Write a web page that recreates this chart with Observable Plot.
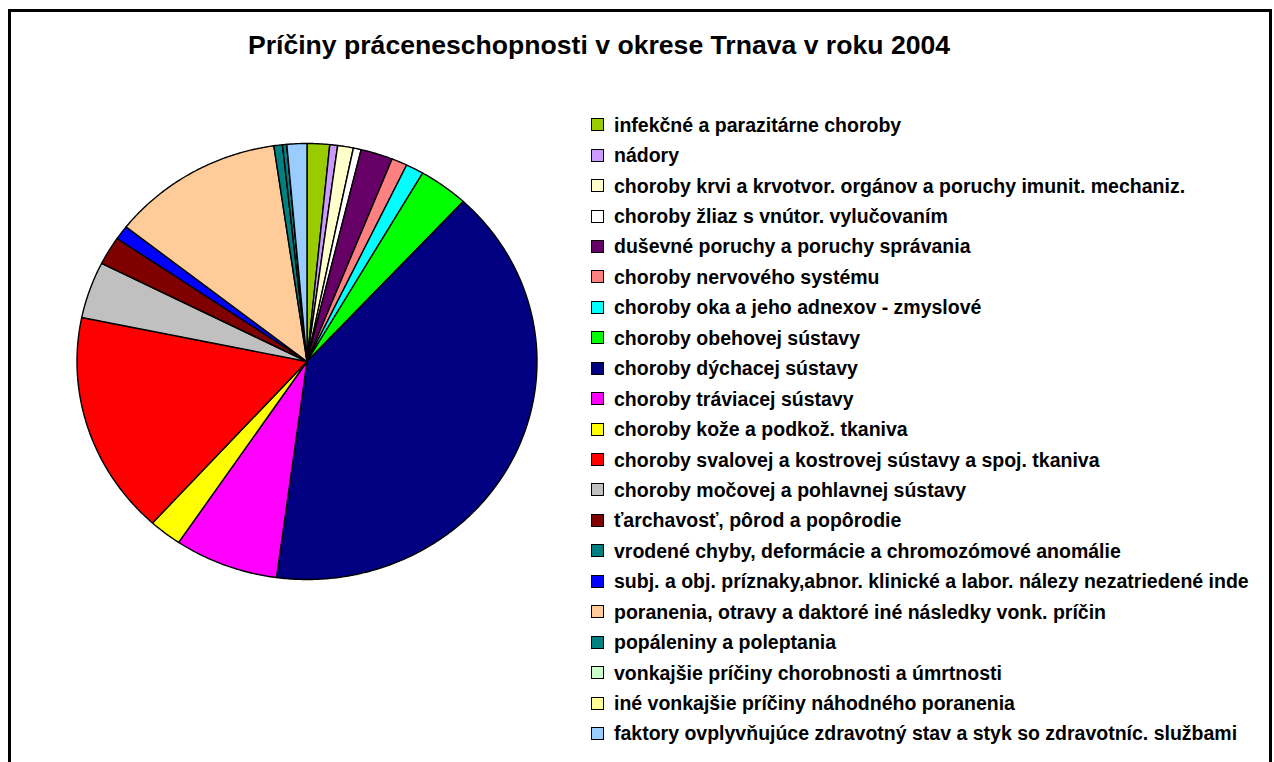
<!DOCTYPE html>
<html><head><meta charset="utf-8">
<script src="https://cdn.jsdelivr.net/npm/d3@7"></script>
<script src="https://cdn.jsdelivr.net/npm/@observablehq/plot@0.6"></script>
<style>
body{margin:0;background:#fff;font-family:"Liberation Sans",Arial,sans-serif;}
#wrap{position:relative;width:1274px;height:762px;overflow:hidden;background:#fff;}
#frame{position:absolute;left:8px;top:9px;width:1264px;height:800px;border:3px solid #000;box-sizing:border-box;pointer-events:none;}
#title{position:absolute;left:0;width:1198px;top:32px;line-height:26px;text-align:center;font-weight:bold;font-size:26.6px;color:#000;white-space:nowrap;}
#legend{position:absolute;left:591px;top:109.5px;}
.row{height:30.45px;display:flex;align-items:center;}
.sw{width:11px;height:11px;border:1px solid #000;margin-right:10px;flex:none;}
.lab{font-size:19.5px;font-weight:bold;color:#000;white-space:nowrap;line-height:20px;}
#chart{position:absolute;left:0;top:0;}
</style>
</head><body>
<div id="wrap">
  <div id="chart"></div>
  <div id="frame"></div>
  <div id="title"></div>
  <div id="legend"></div>
</div>
<script>
const titleText = "Príčiny práceneschopnosti v okrese Trnava v roku 2004";
const categories = [
  "infekčné a parazitárne choroby",
  "nádory",
  "choroby krvi a krvotvor. orgánov a poruchy imunit. mechaniz.",
  "choroby žliaz s vnútor. vylučovaním",
  "duševné poruchy a poruchy správania",
  "choroby nervového systému",
  "choroby oka a jeho adnexov - zmyslové",
  "choroby obehovej sústavy",
  "choroby dýchacej sústavy",
  "choroby tráviacej sústavy",
  "choroby kože a podkož. tkaniva",
  "choroby svalovej a kostrovej sústavy a spoj. tkaniva",
  "choroby močovej a pohlavnej sústavy",
  "ťarchavosť, pôrod a popôrodie",
  "vrodené chyby, deformácie a chromozómové anomálie",
  "subj. a obj. príznaky,abnor. klinické a labor. nálezy nezatriedené inde",
  "poranenia, otravy a daktoré iné následky vonk. príčin",
  "popáleniny a poleptania",
  "vonkajšie príčiny chorobnosti a úmrtnosti",
  "iné vonkajšie príčiny náhodného poranenia",
  "faktory ovplyvňujúce zdravotný stav a styk so zdravotníc. službami"
];
// percentages, in pie order (clockwise from 12 o'clock)
const pieOrder = [0,1,2,3,4,5,6,7,8,9,10,11,12,13,15,16,14,17,18,19,20];
const values = [1.58,0.55,1.1,0.55,2.25,1.1,1.25,3.5,40.2,7.3,2.3,16.5,4.2,2.1,0.6,1.05,12.1,0.3,0,0,1.4];
const colors = ["#99CC00","#CC99FF","#FFFFCC","#FFFFFF","#660066","#FF8080","#00FFFF","#00FF00","#000080","#FF00FF","#FFFF00","#FF0000","#C0C0C0","#800000","#008080","#0000FF","#FFCC99","#008080","#CCFFCC","#FFFF99","#99CCFF"];

document.getElementById("title").textContent = titleText;

// build slice polygons from the values
const total = d3.sum(values);
const pts = [];
let acc = 0;
for (const i of pieOrder) {
  const a0 = acc / total * 2 * Math.PI;
  acc += values[i];
  const a1 = acc / total * 2 * Math.PI;
  const cat = categories[i];
  pts.push({cat, x: 0, y: 0});
  const n = Math.max(2, Math.ceil((a1 - a0) / (Math.PI / 360)));
  for (let k = 0; k <= n; k++) {
    const a = a0 + (a1 - a0) * k / n;
    pts.push({cat, x: Math.sin(a), y: Math.cos(a)});
  }
  pts.push({cat, x: 0, y: 0});
}

const chart = Plot.plot({
  width: 1274,
  height: 762,
  marginLeft: 76.5,
  marginRight: 737.5,
  marginTop: 143,
  marginBottom: 183,
  x: {domain: [-1, 1], axis: null},
  y: {domain: [-1, 1], axis: null},
  color: {type: "ordinal", domain: categories, range: colors},
  style: {background: "transparent", overflow: "visible"},
  marks: [
    Plot.line(pts, {x: "x", y: "y", z: "cat", fill: "cat", stroke: "#000", strokeWidth: 1.4, strokeLinejoin: "round", curve: "linear"})
  ]
});
document.getElementById("chart").appendChild(chart);

const legend = document.getElementById("legend");
categories.forEach((c, i) => {
  const row = document.createElement("div");
  row.className = "row";
  const sw = document.createElement("div");
  sw.className = "sw";
  sw.style.background = colors[i];
  const lab = document.createElement("span");
  lab.className = "lab";
  lab.textContent = c;
  row.appendChild(sw);
  row.appendChild(lab);
  legend.appendChild(row);
});
</script>
</body></html>
